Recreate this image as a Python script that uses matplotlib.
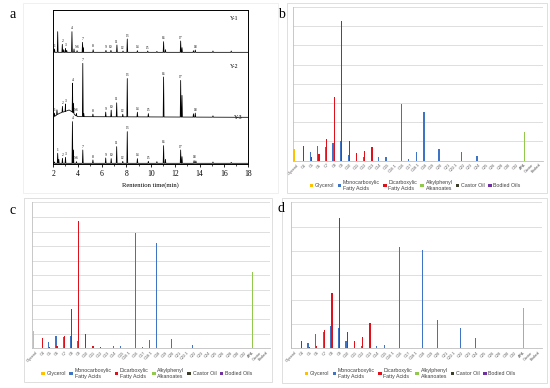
import numpy as np
import matplotlib
matplotlib.use("Agg")
import matplotlib.pyplot as plt
from matplotlib.patches import Rectangle, Patch

# ---- panel a: chromatogram peaks (retention time, height, peak label) ----
t_y1 = [2.10, 2.36, 2.74, 2.85, 3.00, 3.10, 3.53, 3.70, 3.95, 4.40, 4.46, 5.27, 6.32, 6.73, 7.22, 7.72,
        8.07, 8.90, 9.75, 10.5, 11.05, 11.20, 12.45, 12.56, 13.50, 13.65, 15.1, 16.6]
h_y1 = [10, 62, 24, 8, 12, 6, 62, 10, 5, 30, 14, 8, 6, 6, 22, 4,
        40, 5, 4, 3, 32, 8, 34, 14, 5, 7, 4, 4]
lab_y1 = ['1', '', '2', '', '3', '', '4', '', '5-6', '7', '', '8', '9', '10', '11', '12',
          '13', '14', '15', '', '16', '', '17', '', '', '18', '', '']

t_y2 = [2.10, 2.30, 2.75, 3.00, 3.58, 3.66, 3.90, 4.42, 4.50, 5.25, 6.30, 6.75, 7.20, 7.70,
        8.07, 8.90, 9.80, 11.05, 12.45, 12.56, 13.50, 13.65, 15.1]
h_y2 = [10, 15, 18, 22, 87, 30, 8, 160, 10, 8, 14, 20, 42, 8,
        115, 14, 10, 120, 110, 65, 10, 12, 4]
lab_y2 = ['1', '', '2', '3', '4', '', '5-6', '7', '', '8', '9', '10', '11', '12',
          '13', '14', '15', '16', '17', '', '', '18', '']
# broad hump under the early peaks of Y-2
hump_t_y2 = [2.0, 2.2, 2.5, 3.0, 3.3, 3.6, 3.8, 4.0, 18.0]
hump_h_y2 = [0, 5, 12, 18, 22, 15, 6, 2, 0]

t_y3 = [2.10, 2.36, 2.45, 2.75, 3.00, 3.57, 3.65, 3.90, 4.42, 5.25, 6.30, 6.75, 7.20, 7.70,
        8.07, 8.90, 9.80, 10.5, 11.05, 11.20, 12.45, 12.56, 13.55, 13.70, 15.1, 16.6]
h_y3 = [4, 30, 12, 15, 18, 125, 40, 5, 40, 10, 16, 14, 50, 6,
        95, 14, 6, 5, 53, 12, 40, 20, 8, 7, 4, 3]
lab_y3 = ['', '1', '', '2', '3', '4', '', '5-6', '7', '8', '9', '10', '11', '12',
          '13', '14', '15', '', '16', '', '17', '', '18', '', '', '']

# ---- panels b, c, d: bar charts ----
cats = ["Glycerol", "C4", "C5", "C6", "C7", "C8", "C9", "C10", "C11", "C12", "C13", "C14", "C15",
        "C16:1", "C16", "C17", "C18:1", "C18", "C19", "C20", "C21", "C22:1", "C22", "C23", "C24",
        "C25", "C26", "C28", "C30", "C32", "APA", "Castor", "Bodied"]
series = ["Glycerol", "Monocarboxylic\nFatty Acids", "Dicarboxylic\nFatty Acids",
          "Alkylphenyl\nAlkanoates", "Castor Oil", "Bodied Oils"]
colors = ["#FFC000", "#3F74C4", "#E0101A", "#92C84E", "#3D3D29", "#7030A0"]

gly_b   = [0.60] + [0] * 32
mono_b  = [0, 0, 0.47, 0.78, 0.73, 0.90, 1.00, 0.30, 0, 0.20, 0, 0.20, 0.20, 0, 2.96, 0.10, 0.43, 2.56, 0, 0.60, 0, 0, 0.43, 0, 0.25, 0, 0, 0, 0, 0, 0, 0, 0]
di_b    = [0, 0.78, 0.20, 0.35, 1.13, 3.34, 7.25, 1.00, 0.42, 0.50, 0.73, 0, 0, 0, 0, 0, 0, 0, 0, 0, 0, 0, 0, 0, 0, 0, 0, 0, 0, 0, 0, 0, 0]
alk_b   = [0] * 30 + [1.48, 0, 0]

gly_c   = [1.20] + [0] * 32
mono_c  = [0, 0, 0.44, 0.85, 0.76, 0.87, 0.53, 0, 0, 0, 0, 0.16, 0.16, 0, 7.90, 0.10, 0.57, 7.24, 0, 0.64, 0, 0, 0.20, 0, 0, 0, 0, 0, 0, 0, 0, 0, 0]
di_c    = [0, 0.69, 0.10, 0.18, 0.83, 2.71, 8.69, 0.99, 0.16, 0.09, 0, 0, 0, 0, 0, 0, 0, 0, 0, 0, 0, 0, 0, 0, 0, 0, 0, 0, 0, 0, 0, 0, 0]
alk_c   = [0] * 30 + [5.20, 0, 0]

gly_d   = [1.96] + [0] * 32
mono_d  = [0, 0, 0.23, 0.58, 0.69, 0.90, 0.83, 0.28, 0, 0.11, 0, 0.10, 0.12, 0, 4.18, 0, 0, 4.03, 0, 1.17, 0, 0, 0.83, 0, 0.41, 0, 0, 0, 0, 0, 0, 0, 0]
di_d    = [0, 0.32, 0.07, 0.11, 0.76, 2.28, 5.35, 0.69, 0.32, 0.46, 1.03, 0, 0, 0, 0, 0, 0, 0, 0, 0, 0, 0, 0, 0, 0, 0, 0, 0, 0, 0, 0, 0, 0]
alk_d   = [0] * 30 + [1.66, 0, 0]

castor = [0] * 33
bodied = [0] * 33

W, H = 550, 388
fig = plt.figure(figsize=(W / 100, H / 100), dpi=100)
fig.patch.set_facecolor("white")


def box(x0, y0, x1, y1):
    # axes rectangle from pixel coords (top-left origin)
    return [x0 / W, 1 - y1 / H, (x1 - x0) / W, (y1 - y0) / H]


def border(x0, y0, x1, y1, c="#D9D9D9"):
    fig.patches.append(Rectangle((x0 / W, 1 - y1 / H), (x1 - x0) / W, (y1 - y0) / H,
                                 transform=fig.transFigure, fill=False, ec=c, lw=0.6))


serif = "Liberation Serif"
sans = "Liberation Sans"

# ---------------- panel a ----------------
axa = fig.add_axes(box(53.3, 10, 248.3, 164.3))
offsets = [336, 141, 3]
traces = [(t_y1, h_y1, lab_y1, None, None),
          (t_y2, h_y2, lab_y2, hump_t_y2, hump_h_y2),
          (t_y3, h_y3, lab_y3, None, None)]
w = 0.035
for (tt, hh, ll, bt, bh), off in zip(traces, offsets):
    xs = [2.0]
    ys = [0.0]
    for t, h in zip(tt, hh):
        xs += [t - w, t, t + w]
        ys += [0.0, h, 0.0]
    xs.append(18.0)
    ys.append(0.0)
    xs = np.array(xs)
    ys = np.array(ys)
    if bt is not None:
        ys = ys + np.interp(xs, bt, bh)
        xs = np.concatenate([xs, np.array(bt[1:-1])])
        ys = np.concatenate([ys, np.array(bh[1:-1])])
        order = np.argsort(xs, kind="stable")
        xs, ys = xs[order], ys[order]
    axa.plot(xs, ys + off, color="black", lw=0.55)
    for t, h, lab in zip(tt, hh, ll):
        if lab:
            base = np.interp(t, bt, bh) if bt is not None else 0
            axa.text(t, off + base + h + 4, lab, fontsize=2.6, ha="center", va="bottom",
                     family=serif)
for name, xt, yt in [("Y-1", 16.8, 438), ("Y-2", 16.8, 293), ("Y-3", 17.2, 141)]:
    axa.text(xt, yt, name, fontsize=4.2, ha="center", va="center", family=serif)
axa.set_xlim(2, 18)
axa.set_ylim(0, 463)
axa.set_yticks([])
axa.set_xticks(np.arange(2, 19, 2))
axa.set_xticks(np.arange(3, 18, 2), minor=True)
axa.tick_params(axis="x", direction="out", length=2.5, width=0.6, labelsize=5.5, pad=1.5)
axa.tick_params(axis="x", which="minor", direction="out", length=1.5, width=0.5)
for lbl in axa.get_xticklabels():
    lbl.set_family(serif)
axa.set_xlabel("Rentention time(min)", fontsize=4.8, family=serif, labelpad=3)
for s in axa.spines.values():
    s.set_linewidth(0.7)
fig.text(13 / W, 1 - 15 / H, "a", fontsize=10, family=serif, ha="center", va="center")
border(23, 3, 278, 193, c="#EEEEEE")


# ---------------- bar panels ----------------
def bar_panel(rect, vals, ymax, leg_x, leg_top):
    ax = fig.add_axes(rect)
    x = np.arange(len(cats))
    bw = 0.16
    for i, (v, c) in enumerate(zip(vals, colors)):
        ax.bar(x + (i - 2.5) * 0.145, v, width=bw, color=c, linewidth=0, zorder=3)
    ax.set_xlim(-0.5, len(cats) - 0.5)
    ax.set_ylim(0, ymax)
    ax.set_yticks(np.arange(0, ymax + 1, 1))
    ax.set_yticklabels([])
    ax.tick_params(axis="y", length=0)
    ax.grid(axis="y", color="#D9D9D9", lw=0.6, zorder=0)
    ax.set_xticks(x)
    ax.set_xticklabels(cats, rotation=45, ha="right", rotation_mode="anchor",
                       fontsize=2.8, color="#595959", family=sans)
    ax.tick_params(axis="x", length=0, pad=1.5)
    for k in ("top", "right"):
        ax.spines[k].set_visible(False)
    for k in ("left", "bottom"):
        ax.spines[k].set_color("#BFBFBF")
        ax.spines[k].set_linewidth(0.6)
    handles = [Patch(facecolor=c, edgecolor="none") for c in colors]
    leg = fig.legend(handles, series, loc="upper center", bbox_to_anchor=(leg_x, leg_top),
                     bbox_transform=fig.transFigure, ncol=6, frameon=False,
                     prop={"family": sans, "size": 3.8}, handlelength=0.7, handleheight=0.7,
                     handletextpad=0.3, columnspacing=0.6, borderaxespad=0, borderpad=0)
    for txt in leg.get_texts():
        txt.set_color("#404040")
    return ax


bar_panel(box(293, 7, 543, 160.7), [gly_b, mono_b, di_b, alk_b, castor, bodied], 8,
          415 / W, 1 - 180 / H)
border(287, 3, 547, 193)
fig.text(281 / W, 1 - 15 / H, "b", fontsize=10, family=serif, ha="center", va="center")

bar_panel(box(32.3, 202.3, 270, 348.3), [gly_c, mono_c, di_c, alk_c, castor, bodied], 10,
          146.7 / W, 1 - 368 / H)
border(24, 198, 272, 382)
fig.text(13 / W, 1 - 210 / H, "c", fontsize=10, family=serif, ha="center", va="center")

bar_panel(box(290.7, 202.3, 541.7, 348.3), [gly_d, mono_d, di_d, alk_d, castor, bodied], 6,
          410 / W, 1 - 368 / H)
border(282, 198, 547, 383)
fig.text(281 / W, 1 - 208 / H, "d", fontsize=10, family=serif, ha="center", va="center")

fig.savefig("out.png", dpi=100)
